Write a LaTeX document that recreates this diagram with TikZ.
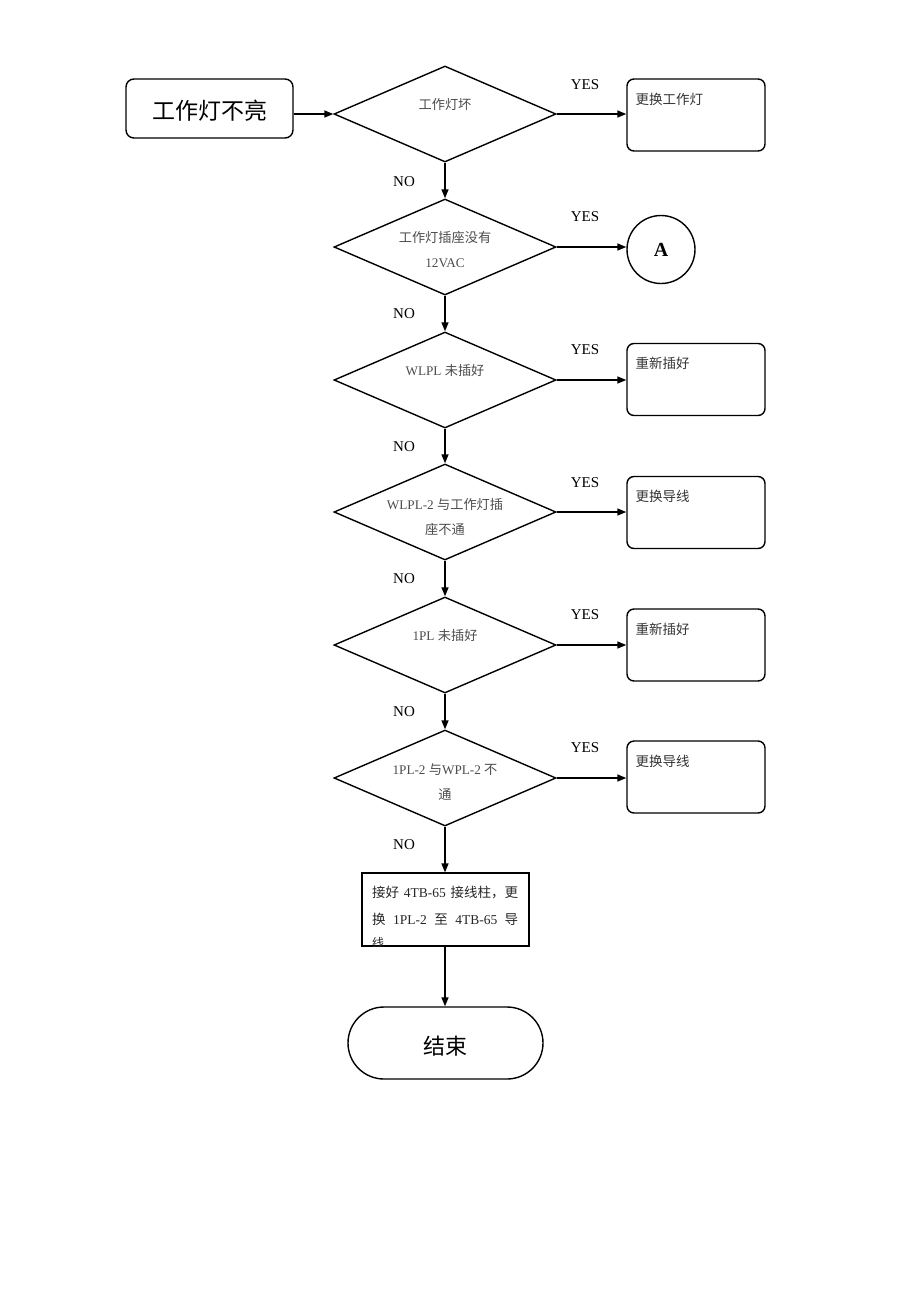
\documentclass[tikz,border=0pt]{standalone}
\usepackage{fontspec}
\setmainfont{Liberation Serif}
\newfontfamily\cjk{Noto Sans CJK SC}
\usetikzlibrary{shapes.geometric,arrows.meta}
\begin{document}
\begin{tikzpicture}[x=1pt,y=-1pt,
 arr/.style={line width=1.4pt,-{Triangle[length=9pt,width=7pt]}},
 dia/.style={draw,line width=1.4pt,shape=diamond,minimum width=222pt,minimum height=96pt,inner sep=0pt,aspect=2.3},
 dtext/.style={font=\fontsize{13.2}{25}\selectfont,text=black!70,align=center,inner sep=0pt},
 rbox/.style={draw,line width=1.4pt,rounded corners=7pt,minimum width=138pt,minimum height=72pt,inner sep=0pt},
 btext/.style={font=\cjk\fontsize{13.5}{15}\selectfont,text=black!80,anchor=west,inner sep=0pt},
 lbl/.style={font=\fontsize{15}{18}\selectfont,inner sep=0pt},
 rtext/.style={font=\fontsize{13.5}{16}\selectfont,text=black!85,anchor=west,inner sep=0pt},
 big/.style={font=\cjk\fontsize{23}{26}\selectfont,inner sep=0pt},
]
\useasboundingbox (0,0) rectangle (920,1302);

% start
\node[draw,line width=1.4pt,rounded corners=8pt,minimum width=167pt,minimum height=59pt,inner sep=0pt] (start) at (209.5,108.5) {};
\node[big] (st) at ([yshift=-2pt]start.center) {工作灯不亮};

% diamonds
\node[dia] (d1) at (445,114) {};
\node[dia] (d2) at (445,247) {};
\node[dia] (d3) at (445,380) {};
\node[dia] (d4) at (445,512) {};
\node[dia] (d5) at (445,645) {};
\node[dia] (d6) at (445,778) {};

\node[dtext] (t1) at ([yshift=9pt]d1.center) {\cjk 工作灯坏};
\node[dtext] (t2) at ([yshift=-3pt]d2.center) {{\cjk 工作灯插座没有}\\12VAC};
\node[dtext] (t3) at ([yshift=10pt]d3.center) {WLPL {\cjk 未插好}};
\node[dtext] (t4) at ([yshift=-5pt]d4.center) {WLPL-2 {\cjk 与工作灯插}\\{\cjk 座不通}};
\node[dtext] (t5) at ([yshift=10pt]d5.center) {1PL {\cjk 未插好}};
\node[dtext] (t6) at ([yshift=-4pt]d6.center) {1PL-2 {\cjk 与}WPL-2 {\cjk 不}\\{\cjk 通}};

% right boxes
\node[rbox] (b1) at (696,115) {};
\node[draw,circle,line width=1.4pt,minimum size=68pt,inner sep=0pt,font=\bfseries\fontsize{20}{24}\selectfont] (A) at (661,249.5) {A};
\node[rbox] (b3) at (696,379.5) {};
\node[rbox] (b4) at (696,512.5) {};
\node[rbox] (b5) at (696,645) {};
\node[rbox] (b6) at (696,777) {};

\node[btext] (bt1) at ([xshift=9pt,yshift=-21pt]b1.north west) {更换工作灯};
\node[btext] (bt3) at ([xshift=9pt,yshift=-21pt]b3.north west) {重新插好};
\node[btext] (bt4) at ([xshift=9pt,yshift=-21pt]b4.north west) {更换导线};
\node[btext] (bt5) at ([xshift=9pt,yshift=-21pt]b5.north west) {重新插好};
\node[btext] (bt6) at ([xshift=9pt,yshift=-21pt]b6.north west) {更换导线};

% YES labels
\node[lbl] (y1) at (585,85) {YES};
\node[lbl] (y2) at (585,217) {YES};
\node[lbl] (y3) at (585,350) {YES};
\node[lbl] (y4) at (585,483) {YES};
\node[lbl] (y5) at (585,615) {YES};
\node[lbl] (y6) at (585,748) {YES};
% NO labels
\node[lbl] (n1) at (404,182) {NO};
\node[lbl] (n2) at (404,314) {NO};
\node[lbl] (n3) at (404,447) {NO};
\node[lbl] (n4) at (404,579) {NO};
\node[lbl] (n5) at (404,712) {NO};
\node[lbl] (n6) at (404,845) {NO};

% bottom rectangle
\node[draw,line width=1.2pt,minimum width=167pt,minimum height=73pt,inner sep=0pt] (r) at (445.5,909.5) {};
\node[rtext] (r1) at (372,893) {\makebox[146pt][s]{{\cjk 接好} 4TB-65 {\cjk 接线柱，更}}};
\node[rtext] (r2) at (372,919) {\makebox[146pt][s]{{\cjk 换} 1PL-2 {\cjk 至} 4TB-65 {\cjk 导}}};
\begin{scope}
\clip (r.north west) rectangle (r.south east);
\node[rtext,font=\cjk\fontsize{12}{14}\selectfont] (r3) at (372,943) {线};
\end{scope}

% end
\node[draw,line width=1.4pt,rounded corners=36pt,minimum width=195pt,minimum height=72pt,inner sep=0pt] (end) at (445.5,1043) {};
\node[big,font=\cjk\fontsize{22}{26}\selectfont] (et) at ([yshift=-3pt]end.center) {结束};

% connectors
\draw[arr] (start.east |- d1.west) -- (d1.west);
\draw[arr] (d1.east) -- (d1.east -| b1.west);
\draw[arr] (d2.east) -- (d2.east -| A.west);
\draw[arr] (d3.east) -- (d3.east -| b3.west);
\draw[arr] (d4.east) -- (d4.east -| b4.west);
\draw[arr] (d5.east) -- (d5.east -| b5.west);
\draw[arr] (d6.east) -- (d6.east -| b6.west);
\draw[arr] (d1.south) -- (d2.north);
\draw[arr] (d2.south) -- (d3.north);
\draw[arr] (d3.south) -- (d4.north);
\draw[arr] (d4.south) -- (d5.north);
\draw[arr] (d5.south) -- (d6.north);
\draw[arr] (d6.south) -- (d6.south |- r.north);
\draw[arr] (r.south -| d6.south) -- (d6.south |- end.north);
\end{tikzpicture}
\end{document}
